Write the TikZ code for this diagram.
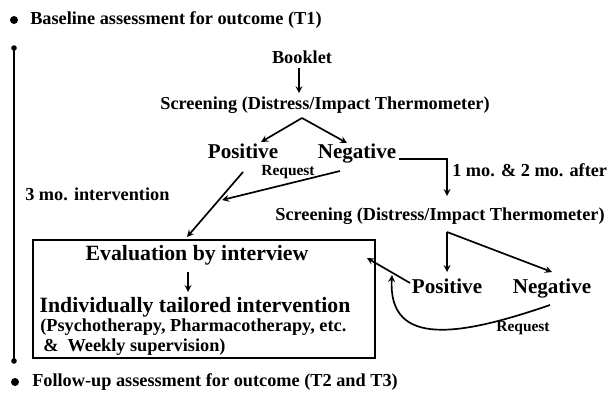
\documentclass[tikz,border=0pt]{standalone}
\usepackage{fontspec}
\setmainfont{Liberation Serif}

\begin{document}
\begin{tikzpicture}[>=stealth, font=\bfseries\fontsize{13}{15}\selectfont]
		\useasboundingbox (0,0) rectangle (15.275,-9.9);
		% time line
		\fill (0.35,-0.5) circle (0.1);
		\node[anchor=west, inner sep=0] (t1) at (0.75,-0.5) {Baseline assessment for outcome (T1)};
		\coordinate (top) at (0.35,-1.2);
		\coordinate (bot) at (0.35,-9.025);
		\draw [very thick] (top) -- (bot);
		\fill (top) circle (0.07);
		\fill (bot) circle (0.07);
		\node[anchor=west, inner sep=0] (span) at (0.625,-4.85) {3 mo. intervention};
		\fill (0.375,-9.55) circle (0.1);
		\node[anchor=west, inner sep=0] (t23) at (0.8,-9.55) {Follow-up assessment for outcome (T2 and T3)};
		% first screening
		\node (booklet) at (7.55,-1.425) {Booklet};
		\node (screen1) at (8.125,-2.625) {Screening (Distress/Impact Thermometer)};
		\draw [very thick, ->] (booklet.south -| 7.475,0) -- (7.475,-2.33);
		\node[font=\bfseries\fontsize{15}{17}\selectfont, inner sep=1pt, anchor=base] (pos1) at (6.075,-3.96) {Positive};
		\node[font=\bfseries\fontsize{15}{17}\selectfont, inner sep=1pt, anchor=base] (neg1) at (8.925,-3.96) {Negative};
		\coordinate (apex1) at (7.55,-2.95);
		\draw [very thick, ->] (apex1) -- (6.525,-3.55);
		\draw [very thick, ->] (apex1) -- (8.675,-3.575);
		\node[font=\bfseries\fontsize{11}{13}\selectfont, inner sep=1pt] (req1) at (7.2,-4.3) {Request};
		% to the box
		\coordinate (meet) at (5.55,-5.0);
		\draw [very thick, ->] (6.075,-4.3) -- (4.675,-5.925);
		\draw [very thick, ->] (8.5,-4.275) -- (meet);
		% follow-up screening
		\coordinate (corner) at (11.175,-3.975);
		\draw [very thick, ->] (9.975,-3.975) -- (corner) -- (11.175,-4.9);
		\node[anchor=west, inner sep=0] (after) at (11.3,-4.25) {1 mo. \& 2 mo. after};
		\node (screen2) at (11,-5.4) {Screening (Distress/Impact Thermometer)};
		\node[font=\bfseries\fontsize{15}{17}\selectfont, anchor=base] (pos2) at (11.175,-7.33) {Positive};
		\node[font=\bfseries\fontsize{15}{17}\selectfont, anchor=base] (neg2) at (13.8,-7.33) {Negative};
		\coordinate (apex2) at (11.175,-5.8);
		\draw [very thick, ->] (apex2) -- (11.175,-6.8);
		\draw [very thick, ->] (apex2) -- (13.8,-6.8);
		\node[font=\bfseries\fontsize{11}{13}\selectfont] (req2) at (13.075,-8.2) {Request};
		% intervention box
		\draw [thick] (0.825,-6) rectangle (9.375,-8.95);
		\node[font=\bfseries\fontsize{15.5}{18}\selectfont] (eval) at (4.925,-6.375) {Evaluation by interview};
		\node[font=\bfseries\fontsize{15.5}{18}\selectfont] (tailor) at (4.875,-7.675) {Individually tailored intervention};
		\draw [very thick, ->] (4.7,-6.8) -- (4.7,-7.3);
		\node[anchor=west, inner sep=0] (therapy) at (1.0,-8.175) {(Psychotherapy, Pharmacotherapy, etc.};
		\node[anchor=west, inner sep=0] (weekly) at (1.075,-8.675) {\&\ \ Weekly supervision)};
		\draw [very thick, ->] (10.25,-7.075) -- (9.175,-6.45);
		\draw [very thick, ->] (13.75,-7.625) .. controls (11.5,-8.4) and (9.7,-8.7) .. (9.8,-6.875);
		\end{tikzpicture}
\end{document}
